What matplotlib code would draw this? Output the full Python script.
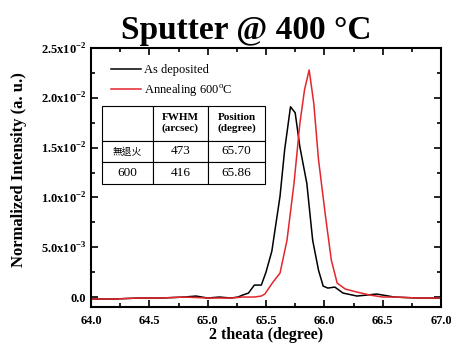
import matplotlib
matplotlib.use('Agg')
import matplotlib.pyplot as plt
from matplotlib.ticker import MultipleLocator, FixedLocator, FixedFormatter

plt.rcParams['font.family'] = ['Liberation Serif', 'Noto Sans CJK TC']
plt.rcParams['mathtext.fontset'] = 'custom'
plt.rcParams['mathtext.rm'] = 'Liberation Serif'
plt.rcParams['mathtext.bf'] = 'Liberation Serif:bold'

# Data
black_x = [64.0, 64.2, 64.4, 64.6, 64.8, 64.9, 65.0, 65.1, 65.2, 65.26, 65.30, 65.35, 65.40,
           65.46, 65.50, 65.55, 65.62, 65.66, 65.71, 65.75, 65.79, 65.85, 65.90, 65.95, 65.99,
           66.03, 66.09, 66.16, 66.28, 66.45, 66.6, 66.8, 67.0]
black_y = [-0.0002, -0.0002, -0.0001, -0.0001, 0.0, 0.0001, -0.0001, 0.0, -0.0001, 0.0, 0.0002,
           0.0004, 0.0012, 0.0012, 0.0025, 0.0046, 0.0101, 0.0148, 0.0191, 0.0185, 0.0151, 0.0114,
           0.0057, 0.0027, 0.0011, 0.0009, 0.0010, 0.0004, 0.0001, 0.0003, 0.0, -0.0001, -0.0001]

red_x = [64.0, 64.2, 64.4, 64.6, 64.8, 65.0, 65.2, 65.3, 65.4, 65.46, 65.49, 65.56, 65.62, 65.68,
         65.74, 65.79, 65.83, 65.87, 65.91, 65.95, 66.01, 66.06, 66.11, 66.18, 66.28, 66.39, 66.5,
         66.6, 66.8, 67.0]
red_y = [-0.0002, -0.0002, -0.0001, -0.0001, 0.0, -0.0001, -0.0001, 0.0, 0.0, 0.0001, 0.0003,
         0.0015, 0.0024, 0.0057, 0.0114, 0.0174, 0.0208, 0.0228, 0.0194, 0.0138, 0.0081, 0.0037,
         0.0014, 0.0008, 0.0005, 0.0002, 0.0, 0.0, -0.0001, -0.0001]

ytick_vals = [0.0, 0.005, 0.010, 0.015, 0.020, 0.025]
ytick_labels = ['0.0', '5.0x10$^{\\mathbf{-3}}$', '1.0x10$^{\\mathbf{-2}}$',
                '1.5x10$^{\\mathbf{-2}}$', '2.0x10$^{\\mathbf{-2}}$', '2.5x10$^{\\mathbf{-2}}$']

table_header = ['', 'FWHM\n(arcsec)', 'Position\n(degree)']
table_rows = [['無退火', '473', '65.70'], ['600', '416', '65.86']]

fig = plt.figure(figsize=(4.52, 3.47), dpi=100)
ax = fig.add_axes([91 / 452, 1 - 307 / 347, 350 / 452, 259 / 347])

ax.plot(black_x, black_y, color='black', lw=1.1, label='As deposited')
ax.plot(red_x, red_y, color='#e3262b', lw=1.1, label='Annealing 600$^{\\mathrm{o}}$C')

ax.set_xlim(64.0, 67.0)
ax.set_ylim(-0.001, 0.025)
ax.xaxis.set_major_locator(MultipleLocator(0.5))
ax.xaxis.set_minor_locator(MultipleLocator(0.25))
ax.yaxis.set_major_locator(FixedLocator(ytick_vals))
ax.yaxis.set_major_formatter(FixedFormatter(ytick_labels))
ax.yaxis.set_minor_locator(MultipleLocator(0.0025))
ax.tick_params(which='both', direction='in', top=True, right=True, width=1.2)
ax.tick_params(which='major', length=5, labelsize=9)
ax.tick_params(axis='x', which='major', pad=6)
ax.tick_params(which='minor', length=3)
for lab in ax.get_xticklabels() + ax.get_yticklabels():
    lab.set_fontweight('bold')
for s in ax.spines.values():
    s.set_linewidth(1.5)

ax.set_xlabel('2 theata (degree)', fontsize=11.5, fontweight='bold', labelpad=0)
ax.set_ylabel('Normalized Intensity (a. u.)', fontsize=12, fontweight='bold')
ax.yaxis.set_label_coords(-0.183, 0.53)

ax.legend(loc='upper left', frameon=False, fontsize=9, handlelength=2.4, handletextpad=0.2,
          borderaxespad=0.4, labelspacing=0.5, bbox_to_anchor=(0.03, 0.975))

tbl = ax.table(cellText=[table_header] + table_rows, cellLoc='center',
               colWidths=[51, 55, 57], bbox=[0.031, 0.475, 0.466, 0.301])
tbl.auto_set_font_size(False)
for (r, c), cell in tbl.get_celld().items():
    cell.set_linewidth(0.8)
    cell.set_height(35 if r == 0 else 22)
    txt = cell.get_text()
    if r == 0:
        txt.set_fontweight('bold')
        txt.set_fontsize(8)
    else:
        txt.set_fontsize(9.5)
    if r > 0 and c == 0 and table_rows[r - 1][0] == '無退火':
        txt.set_fontfamily(['Noto Sans CJK TC'])
        txt.set_fontsize(7)

fig.text(246 / 452, 1 - 31 / 347, 'Sputter @ 400 °C', fontsize=24, fontweight='bold',
         ha='center', va='center')

fig.savefig('out.png', dpi=100)
